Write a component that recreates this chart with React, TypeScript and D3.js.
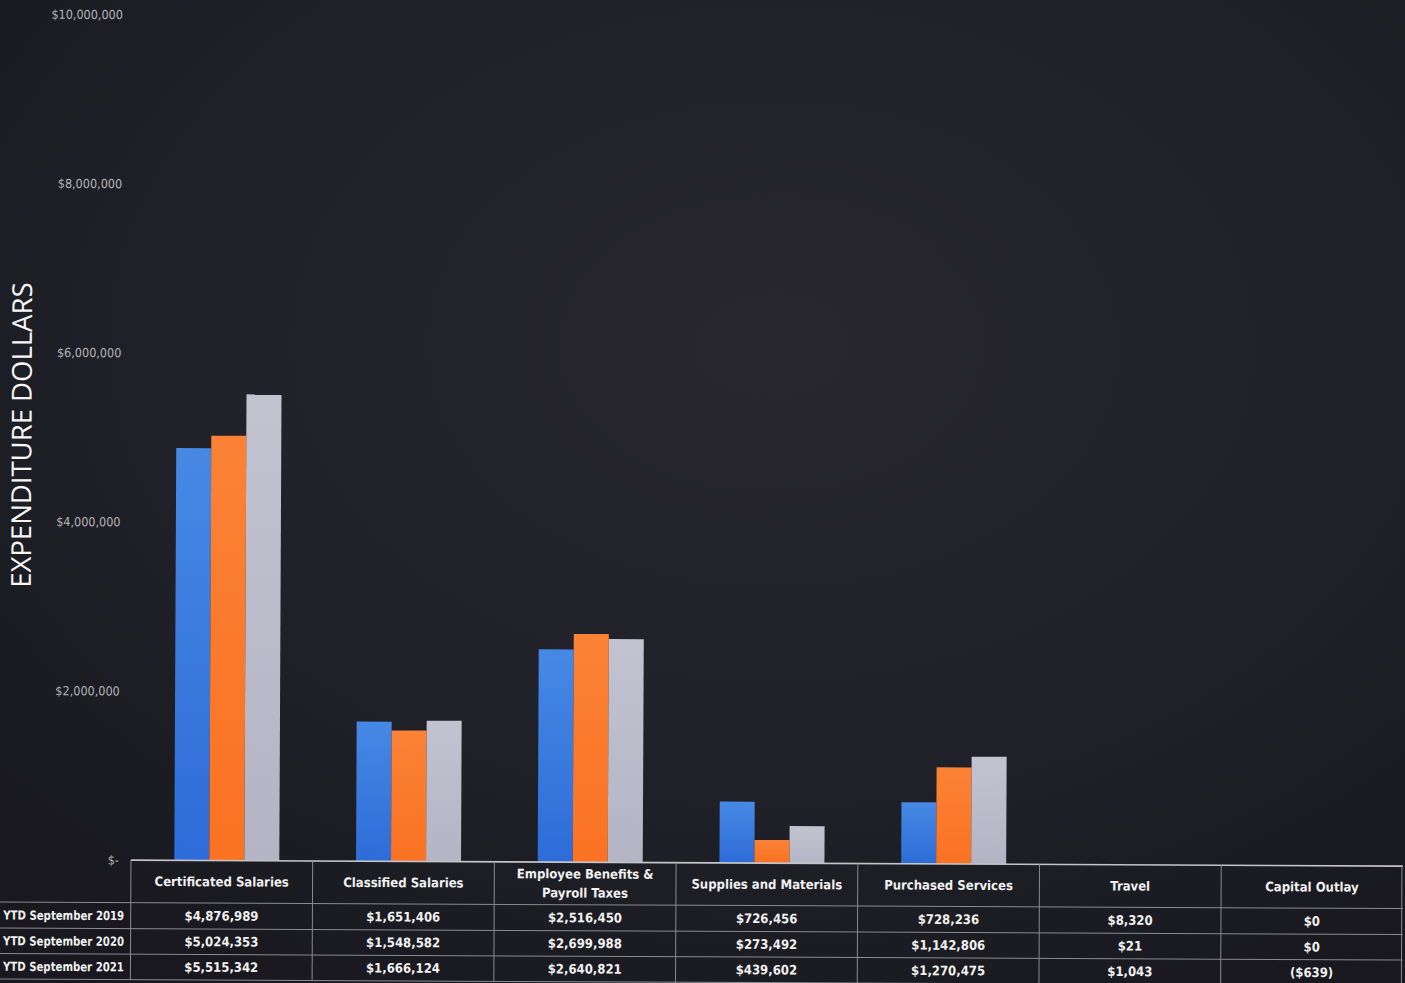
import React from "react";
import * as d3 from "d3";

const categories = [
  "Certificated Salaries",
  "Classified Salaries",
  "Employee Benefits & Payroll Taxes",
  "Supplies and Materials",
  "Purchased Services",
  "Travel",
  "Capital Outlay",
];
const categoryLines = [
  ["Certificated Salaries"],
  ["Classified Salaries"],
  ["Employee Benefits &", "Payroll Taxes"],
  ["Supplies and Materials"],
  ["Purchased Services"],
  ["Travel"],
  ["Capital Outlay"],
];
const seriesNames = ["YTD September 2019", "YTD September 2020", "YTD September 2021"];
const values2019 = [4876989, 1651406, 2516450, 726456, 728236, 8320, 0];
const values2020 = [5024353, 1548582, 2699988, 273492, 1142806, 21, 0];
const values2021 = [5515342, 1666124, 2640821, 439602, 1270475, 1043, -639];
const yTicks = [0, 2000000, 4000000, 6000000, 8000000, 10000000];
const yTitle = "EXPENDITURE DOLLARS";

const seriesValues = [values2019, values2020, values2021];
const colors = ["url(#gBlue)", "url(#gOrange)", "url(#gGray)"];

const W = 1405;
const H = 983;
const tableLeft = 135;
const tableRight = 1407;
const baseY = 859.5;
const rowLines = [902, 928, 953.5, 979];

const fmtNum = d3.format(",");
const money = (v: number) => (v < 0 ? `($${fmtNum(-v)})` : `$${fmtNum(v)}`);
const tickFmt = (v: number) => (v === 0 ? "$-" : `$${fmtNum(v)}`);

const narrow = "'Liberation Sans Narrow', 'DejaVu Sans Condensed', 'Roboto', sans-serif";

export default function App() {
  const x = d3.scaleBand<string>().domain(categories).range([tableLeft, tableRight]);
  const y = d3.scaleLinear().domain([0, 10000000]).range([baseY, 14]);
  const barW = 35;
  const groupOffset = 5;
  const inner = d3
    .scaleBand<number>()
    .domain([0, 1, 2])
    .range([0, barW * 3]);

  return (
    <svg
      width={W}
      height={H}
      style={{ position: "absolute", left: 0, top: 0, display: "block" }}
    >
      <defs>
        <radialGradient id="bg" cx="0.55" cy="0.35" r="0.75">
          <stop offset="0" stopColor="#28272f" />
          <stop offset="0.6" stopColor="#202028" />
          <stop offset="1" stopColor="#18181e" />
        </radialGradient>
        <linearGradient id="gBlue" x1="0" y1="0" x2="0" y2="1">
          <stop offset="0" stopColor="#4689e4" />
          <stop offset="1" stopColor="#2d6cd8" />
        </linearGradient>
        <linearGradient id="gOrange" x1="0" y1="0" x2="0" y2="1">
          <stop offset="0" stopColor="#fb8236" />
          <stop offset="1" stopColor="#fa7222" />
        </linearGradient>
        <linearGradient id="gGray" x1="0" y1="0" x2="0" y2="1">
          <stop offset="0" stopColor="#c2c2d0" />
          <stop offset="1" stopColor="#b4b4c4" />
        </linearGradient>
      </defs>
      <rect x={0} y={0} width={W} height={H} fill="url(#bg)" />
      <g transform="rotate(0.27)">
        {/* y axis title */}
        <text
          transform={`translate(23,435) rotate(-90)`}
          textAnchor="middle"
          dominantBaseline="central"
          fill="#f6f6f6"
          fontFamily="'Open Sans', sans-serif"
          fontSize={27.5}
        >
          {yTitle}
        </text>
        {/* y ticks */}
        {yTicks.map((t) => (
          <text
            key={t}
            x={123}
            y={y(t)}
            textAnchor="end"
            dominantBaseline="central"
            fill="#b4b4b8"
            fontFamily={narrow}
            fontSize={12.5}
          >
            {tickFmt(t)}
          </text>
        ))}
        {/* bars */}
        {categories.map((c, i) => {
          const gx = (x(c) as number) + x.bandwidth() / 2 - (barW * 3) / 2 + groupOffset;
          return (
            <g key={c}>
              {seriesValues.map((vals, s) => {
                const v = vals[i];
                const y0 = y(Math.max(0, v));
                const y1 = y(Math.min(0, v));
                return (
                  <rect
                    key={s}
                    x={gx + (inner(s) as number)}
                    y={y0}
                    width={inner.bandwidth()}
                    height={Math.max(0, y1 - y0)}
                    fill={colors[s]}
                  />
                );
              })}
            </g>
          );
        })}
        {/* table lines */}
        <line x1={tableLeft} x2={tableRight} y1={baseY} y2={baseY} stroke="#c4c4c8" strokeWidth={1.6} />
        {rowLines.map((ry, k) => (
          <line key={k} x1={-10} x2={tableRight} y1={ry} y2={ry} stroke="#8a8a90" strokeWidth={1} />
        ))}
        {categories.map((c) => (
          <line
            key={c}
            x1={x(c) as number}
            x2={x(c) as number}
            y1={baseY}
            y2={rowLines[3]}
            stroke="#8a8a90"
            strokeWidth={1}
          />
        ))}
        <line x1={tableRight - 1} x2={tableRight - 1} y1={baseY} y2={rowLines[3]} stroke="#8a8a90" />
        {/* headers */}
        {categories.map((c, i) => {
          const cx = (x(c) as number) + x.bandwidth() / 2;
          const lines = categoryLines[i];
          const mid = (baseY + rowLines[0]) / 2;
          return (
            <text
              key={c}
              x={cx}
              textAnchor="middle"
              fill="#f0f0f0"
              fontFamily={narrow}
              fontWeight="bold"
              fontSize={13}
            >
              {lines.map((ln, k) => (
                <tspan
                  key={k}
                  x={cx}
                  y={mid + (k - (lines.length - 1) / 2) * 19}
                  dominantBaseline="central"
                >
                  {ln}
                </tspan>
              ))}
            </text>
          );
        })}
        {/* rows */}
        {seriesNames.map((sn, s) => {
          const ry = (rowLines[s] + rowLines[s + 1]) / 2;
          return (
            <g key={sn}>
              <text
                x={7.5}
                y={ry}
                textAnchor="start"
                dominantBaseline="central"
                fill="#f0f0f0"
                fontFamily={narrow}
                fontWeight="bold"
                fontSize={12.5}
                textLength={121}
                lengthAdjust="spacingAndGlyphs"
              >
                {sn}
              </text>
              {categories.map((c, i) => (
                <text
                  key={c}
                  x={(x(c) as number) + x.bandwidth() / 2}
                  y={ry}
                  textAnchor="middle"
                  dominantBaseline="central"
                  fill="#f0f0f0"
                  fontFamily={narrow}
                  fontWeight="bold"
                  fontSize={13}
                >
                  {money(seriesValues[s][i])}
                </text>
              ))}
            </g>
          );
        })}
      </g>
    </svg>
  );
}
